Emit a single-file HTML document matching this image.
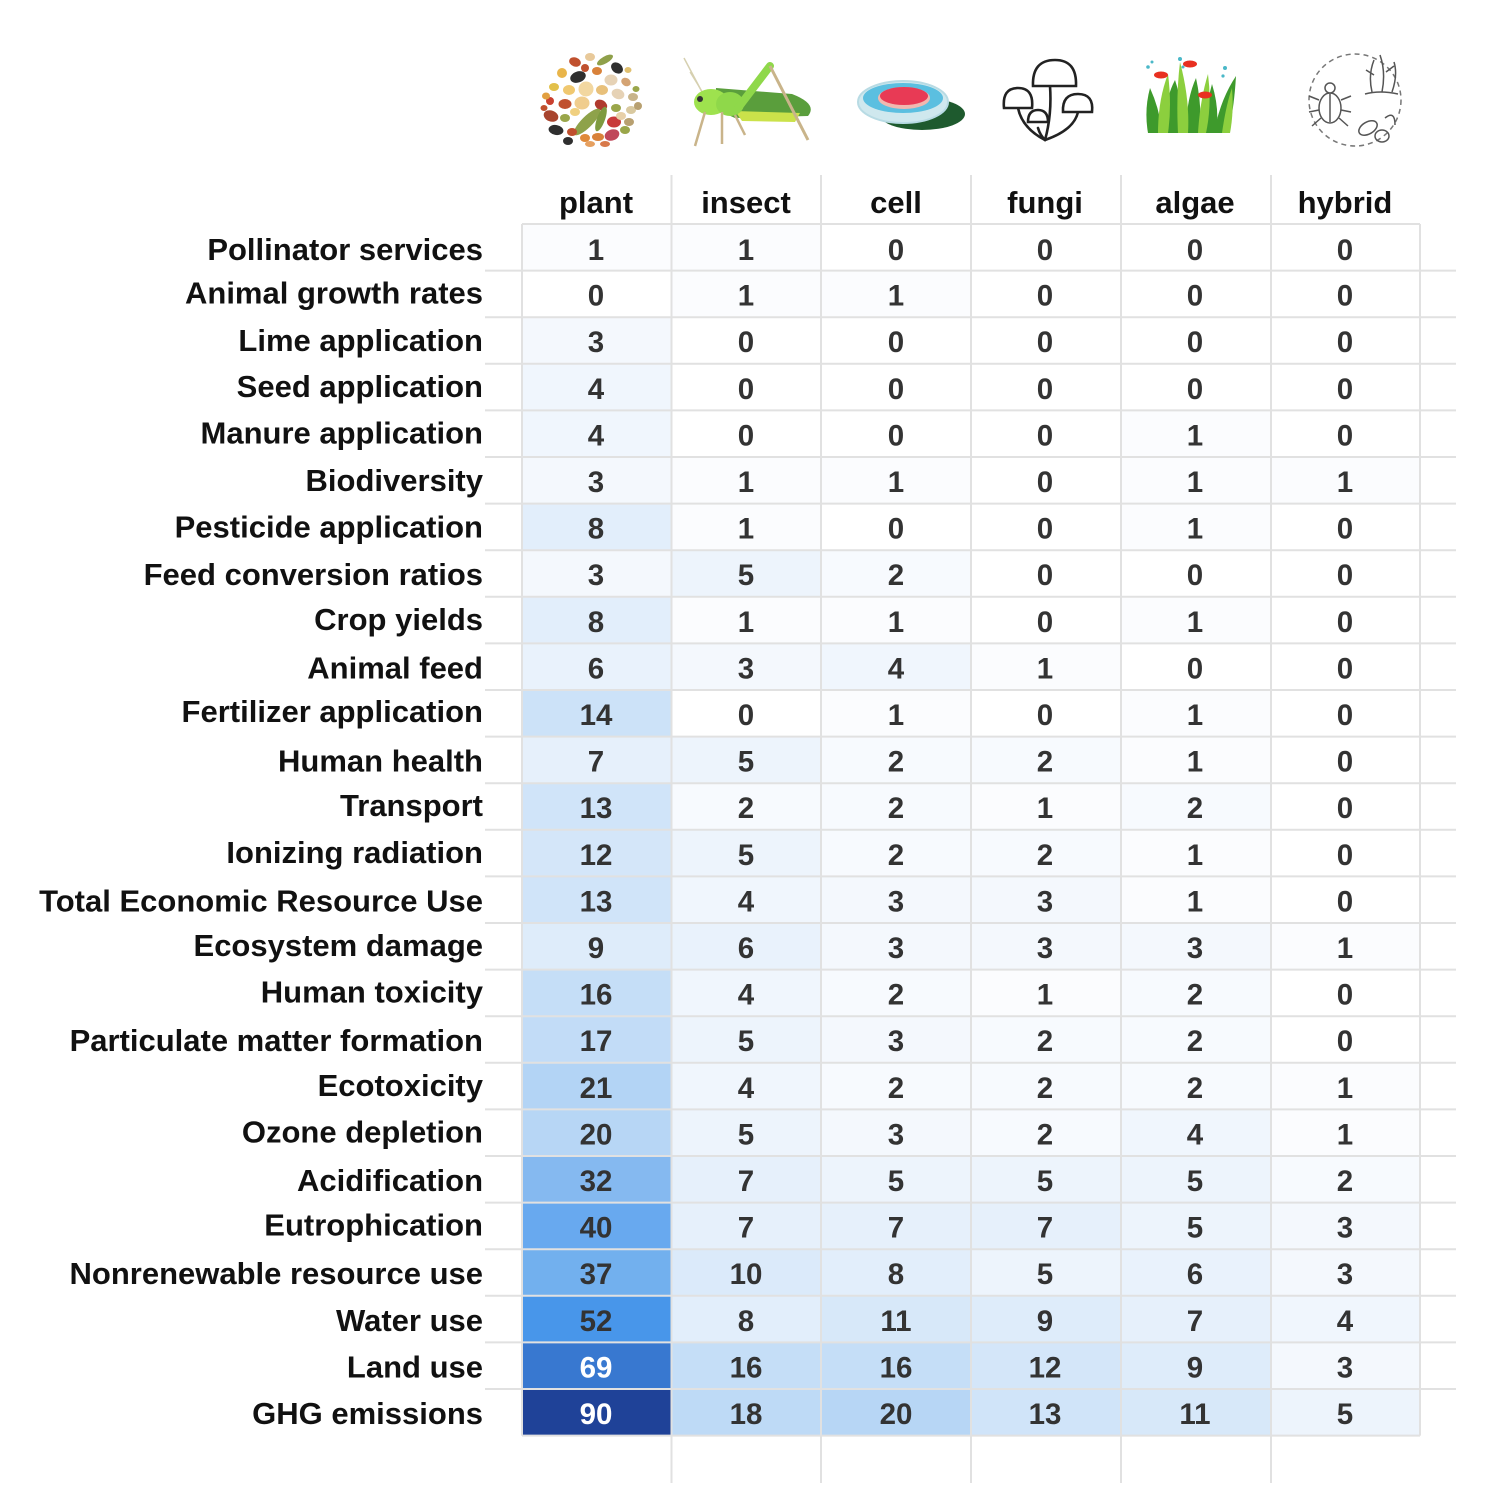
<!DOCTYPE html>
<html>
<head>
<meta charset="utf-8">
<style>
  html, body { margin:0; padding:0; background:#ffffff; }
  body { width:1492px; height:1502px; overflow:hidden; }
  svg { display:block; }
  .h { font-family:"Liberation Sans", Arial, Helvetica, sans-serif; font-weight:bold; font-size:31px; fill:#111; text-anchor:middle; }
  .l { font-family:"Liberation Sans", Arial, Helvetica, sans-serif; font-weight:bold; font-size:31px; fill:#111; text-anchor:end; }
  .n { font-family:"Liberation Sans", Arial, Helvetica, sans-serif; font-weight:bold; font-size:29.5px; fill:#333; text-anchor:middle; }
  .w { fill:#ffffff; }
</style>
</head>
<body>
<svg width="1492" height="1502" viewBox="0 0 1492 1502" xmlns="http://www.w3.org/2000/svg">

<!-- ============ ICONS ============ -->
<!-- plant: beans circle -->
<g>
  <ellipse cx="575" cy="62" rx="6" ry="4.5" fill="#c0502e" transform="rotate(20 575 62)"/>
  <ellipse cx="590" cy="57" rx="5" ry="4" fill="#e8c99a"/>
  <ellipse cx="605" cy="60" rx="9" ry="3.5" fill="#8fa04a" transform="rotate(-30 605 60)"/>
  <ellipse cx="617" cy="68" rx="6.5" ry="5" fill="#2f2f2f" transform="rotate(40 617 68)"/>
  <ellipse cx="562" cy="73" rx="5" ry="5" fill="#e9b54a"/>
  <ellipse cx="578" cy="77" rx="8" ry="5.5" fill="#2f2f2f" transform="rotate(-20 578 77)"/>
  <ellipse cx="597" cy="71" rx="5" ry="4" fill="#d9823a"/>
  <ellipse cx="611" cy="80" rx="6.5" ry="5.5" fill="#e6d2b5"/>
  <ellipse cx="626" cy="82" rx="5" ry="4" fill="#d4a373" transform="rotate(30 626 82)"/>
  <ellipse cx="554" cy="87" rx="5" ry="4" fill="#e2c04a"/>
  <ellipse cx="569" cy="90" rx="6" ry="5" fill="#f0c870"/>
  <ellipse cx="586" cy="89" rx="7.5" ry="7.5" fill="#f2d7a0"/>
  <ellipse cx="602" cy="90" rx="6" ry="5" fill="#e8c07a"/>
  <ellipse cx="618" cy="94" rx="6.5" ry="5" fill="#e6d2b5" transform="rotate(20 618 94)"/>
  <ellipse cx="633" cy="97" rx="5" ry="4" fill="#c8b48a"/>
  <ellipse cx="550" cy="101" rx="4" ry="4" fill="#c94030"/>
  <ellipse cx="565" cy="104" rx="6.5" ry="5" fill="#c0502e"/>
  <ellipse cx="582" cy="103" rx="7.5" ry="6.5" fill="#f0cd8e"/>
  <ellipse cx="601" cy="105" rx="6.5" ry="5" fill="#b03a2e" transform="rotate(30 601 105)"/>
  <ellipse cx="616" cy="108" rx="5" ry="4" fill="#9aa64a"/>
  <ellipse cx="631" cy="110" rx="5" ry="4" fill="#d9c9a0"/>
  <ellipse cx="551" cy="116" rx="7.5" ry="5.5" fill="#a8442e" transform="rotate(20 551 116)"/>
  <ellipse cx="565" cy="118" rx="5" ry="4" fill="#9aa64a"/>
  <ellipse cx="587" cy="122" rx="18" ry="5.5" fill="#8ea24a" transform="rotate(-45 587 122)"/>
  <ellipse cx="601" cy="119" rx="13" ry="4" fill="#7e9a40" transform="rotate(-70 601 119)"/>
  <ellipse cx="614" cy="122" rx="7" ry="5.5" fill="#c83a3a"/>
  <ellipse cx="629" cy="122" rx="5" ry="4" fill="#b8a070"/>
  <ellipse cx="556" cy="130" rx="7.5" ry="5" fill="#2f2f2f" transform="rotate(10 556 130)"/>
  <ellipse cx="572" cy="132" rx="5" ry="4" fill="#c0502e"/>
  <ellipse cx="585" cy="138" rx="5" ry="4" fill="#e08a3a"/>
  <ellipse cx="598" cy="137" rx="6" ry="4" fill="#d9823a"/>
  <ellipse cx="612" cy="135" rx="7.5" ry="5.5" fill="#c0485a" transform="rotate(-20 612 135)"/>
  <ellipse cx="625" cy="130" rx="5" ry="4" fill="#9aa64a"/>
  <ellipse cx="568" cy="141" rx="5" ry="4" fill="#2f2f2f"/>
  <ellipse cx="590" cy="144" rx="5" ry="3" fill="#e6a060"/>
  <ellipse cx="605" cy="144" rx="5" ry="3" fill="#d8794a"/>
  <ellipse cx="621" cy="116" rx="5" ry="4" fill="#e8d0a8"/>
  <ellipse cx="575" cy="112" rx="5" ry="4" fill="#f0d080"/>
  <ellipse cx="585" cy="68" rx="4" ry="4" fill="#c0502e"/>
  <ellipse cx="638" cy="106" rx="4" ry="4" fill="#b8a070"/>
  <ellipse cx="546" cy="96" rx="4" ry="3.5" fill="#e2a040"/>
  <ellipse cx="560" cy="60" rx="0" ry="0" fill="none"/>
  <ellipse cx="636" cy="89" rx="3.5" ry="3" fill="#9aa64a"/>
  <ellipse cx="544" cy="108" rx="3.5" ry="3" fill="#c0502e"/>
  <ellipse cx="628" cy="70" rx="3.5" ry="3" fill="#e0c070"/>
</g>

<!-- insect: grasshopper -->
<g>
  <line x1="702" y1="92" x2="684" y2="58" stroke="#d6d0b0" stroke-width="1.5"/>
  <line x1="703" y1="93" x2="690" y2="72" stroke="#d6d0b0" stroke-width="1.2"/>
  <path d="M716 88 L792 94 Q818 104 808 116 L735 118 Q714 110 716 88 Z" fill="#5a9e3c"/>
  <path d="M735 111 L800 113 L795 122 L742 121 Z" fill="#cbe24a"/>
  <ellipse cx="711" cy="102" rx="17" ry="13" fill="#9ee24e"/>
  <ellipse cx="730" cy="104" rx="14" ry="12" fill="#8fd84a"/>
  <circle cx="700" cy="99" r="3" fill="#333"/>
  <line x1="738" y1="108" x2="770" y2="66" stroke="#8fd84a" stroke-width="8" stroke-linecap="round"/>
  <line x1="770" y1="66" x2="808" y2="140" stroke="#c9b48a" stroke-width="3"/>
  <line x1="705" y1="112" x2="695" y2="146" stroke="#c9b48a" stroke-width="2.5"/>
  <line x1="722" y1="112" x2="722" y2="144" stroke="#c9b48a" stroke-width="2.5"/>
  <line x1="735" y1="115" x2="745" y2="135" stroke="#c9b48a" stroke-width="2.5"/>
</g>

<!-- cell: petri dish -->
<g>
  <ellipse cx="922" cy="114" rx="43" ry="16" fill="#1e5a2e"/>
  <ellipse cx="903" cy="102" rx="45" ry="21" fill="#cfe8ee" stroke="#b8dbe4" stroke-width="2"/>
  <ellipse cx="903" cy="98" rx="40" ry="15" fill="#5bbfe0"/>
  <ellipse cx="904" cy="98" rx="26" ry="11" fill="#f0b8b0"/>
  <ellipse cx="904" cy="96" rx="24" ry="9" fill="#e83a55"/>
</g>

<!-- fungi -->
<g fill="#ffffff" stroke="#222" stroke-width="2.6" stroke-linecap="round">
  <path d="M1050 86 Q1052 115 1045 140"/>
  <path d="M1018 108 Q1022 128 1045 140"/>
  <path d="M1078 112 Q1074 130 1045 140"/>
  <path d="M1038 128 Q1040 135 1045 140"/>
  <path d="M1033 86 Q1032 60 1055 60 Q1077 60 1076 86 Z"/>
  <path d="M1004 108 Q1002 88 1018 88 Q1034 88 1032 108 Z"/>
  <path d="M1063 112 Q1062 94 1078 94 Q1094 94 1092 112 Z"/>
  <path d="M1028 122 Q1028 110 1038 110 Q1048 110 1048 122 Z"/>
</g>

<!-- algae -->
<g>
  <path d="M1148 133 Q1144 110 1150 88 Q1160 110 1162 133 Z" fill="#3e9a2c"/>
  <path d="M1168 133 Q1162 105 1175 80 Q1184 108 1184 133 Z" fill="#3e9a2c"/>
  <path d="M1186 133 Q1186 100 1196 78 Q1202 105 1200 133 Z" fill="#3e9a2c"/>
  <path d="M1204 133 Q1206 105 1212 84 Q1220 110 1216 133 Z" fill="#3e9a2c"/>
  <path d="M1214 133 Q1220 100 1236 76 Q1234 110 1228 133 Z" fill="#3e9a2c"/>
  <path d="M1158 133 Q1158 100 1168 74 Q1172 105 1168 133 Z" fill="#8ccf3e"/>
  <path d="M1178 133 Q1176 95 1180 62 Q1190 100 1188 133 Z" fill="#8ccf3e"/>
  <path d="M1198 133 Q1200 100 1208 74 Q1212 105 1206 133 Z" fill="#8ccf3e"/>
  <path d="M1222 133 Q1226 105 1232 88 Q1234 112 1230 133 Z" fill="#8ccf3e"/>
  <ellipse cx="1161" cy="75" rx="7" ry="3.5" fill="#e83020"/>
  <ellipse cx="1190" cy="64" rx="7" ry="3.5" fill="#e83020"/>
  <ellipse cx="1205" cy="95" rx="7" ry="3.5" fill="#e83020"/>
  <circle cx="1148" cy="67" r="1.8" fill="#4ab8c8"/>
  <circle cx="1152" cy="62" r="1.5" fill="#4ab8c8"/>
  <circle cx="1180" cy="59" r="2" fill="#4ab8c8"/>
  <circle cx="1183" cy="67" r="1.5" fill="#4ab8c8"/>
  <circle cx="1225" cy="68" r="2" fill="#4ab8c8"/>
  <circle cx="1223" cy="76" r="1.6" fill="#4ab8c8"/>
</g>

<!-- hybrid -->
<g fill="none" stroke="#555" stroke-width="1.5">
  <circle cx="1355" cy="100" r="46" stroke-dasharray="5 4" stroke="#777"/>
  <ellipse cx="1330" cy="108" rx="11" ry="15" fill="#fff"/>
  <circle cx="1330" cy="88" r="5" fill="#fff"/>
  <line x1="1330" y1="94" x2="1330" y2="122"/>
  <path d="M1319 100 L1309 96 M1319 110 L1309 112 M1321 118 L1312 126 M1341 100 L1351 96 M1341 110 L1351 112 M1339 118 L1348 126"/>
  <path d="M1372 92 Q1368 75 1374 60 M1382 92 Q1386 72 1380 55 M1392 92 Q1398 75 1394 62 M1374 75 L1366 70 M1386 72 L1394 66"/>
  <path d="M1365 94 Q1380 90 1398 94"/>
  <ellipse cx="1368" cy="128" rx="10" ry="6" transform="rotate(-30 1368 128)"/>
  <ellipse cx="1382" cy="136" rx="7" ry="6"/>
  <path d="M1385 118 Q1395 110 1395 125"/>
</g>

<!-- ============ CELL FILLS ============ -->
<g transform="translate(0,224)">
  <rect x="522" y="0" width="149.5" height="46.6" fill="#fbfcfe"/>
  <rect x="671.5" y="0" width="149.5" height="46.6" fill="#fbfcfe"/>
</g>
<g transform="translate(0,270.6)">
  <rect x="671.5" y="0" width="149.5" height="46.6" fill="#fbfcfe"/>
  <rect x="821" y="0" width="150" height="46.6" fill="#fbfcfe"/>
</g>
<g transform="translate(0,317.2)">
  <rect x="522" y="0" width="149.5" height="46.6" fill="#f4f8fd"/>
</g>
<g transform="translate(0,363.8)">
  <rect x="522" y="0" width="149.5" height="46.6" fill="#f0f6fd"/>
</g>
<g transform="translate(0,410.4)">
  <rect x="522" y="0" width="149.5" height="46.6" fill="#f0f6fd"/>
  <rect x="1121" y="0" width="150" height="46.6" fill="#fbfcfe"/>
</g>
<g transform="translate(0,457)">
  <rect x="522" y="0" width="149.5" height="46.6" fill="#f4f8fd"/>
  <rect x="671.5" y="0" width="149.5" height="46.6" fill="#fbfcfe"/>
  <rect x="821" y="0" width="150" height="46.6" fill="#fbfcfe"/>
  <rect x="1121" y="0" width="150" height="46.6" fill="#fbfcfe"/>
  <rect x="1271" y="0" width="149" height="46.6" fill="#fbfcfe"/>
</g>
<g transform="translate(0,503.6)">
  <rect x="522" y="0" width="149.5" height="46.6" fill="#e2eefb"/>
  <rect x="671.5" y="0" width="149.5" height="46.6" fill="#fbfcfe"/>
  <rect x="1121" y="0" width="150" height="46.6" fill="#fbfcfe"/>
</g>
<g transform="translate(0,550.2)">
  <rect x="522" y="0" width="149.5" height="46.6" fill="#f4f8fd"/>
  <rect x="671.5" y="0" width="149.5" height="46.6" fill="#edf4fc"/>
  <rect x="821" y="0" width="150" height="46.6" fill="#f7fafe"/>
</g>
<g transform="translate(0,596.8)">
  <rect x="522" y="0" width="149.5" height="46.6" fill="#e2eefb"/>
  <rect x="671.5" y="0" width="149.5" height="46.6" fill="#fbfcfe"/>
  <rect x="821" y="0" width="150" height="46.6" fill="#fbfcfe"/>
  <rect x="1121" y="0" width="150" height="46.6" fill="#fbfcfe"/>
</g>
<g transform="translate(0,643.4)">
  <rect x="522" y="0" width="149.5" height="46.6" fill="#e9f2fc"/>
  <rect x="671.5" y="0" width="149.5" height="46.6" fill="#f4f8fd"/>
  <rect x="821" y="0" width="150" height="46.6" fill="#f0f6fd"/>
  <rect x="971" y="0" width="150" height="46.6" fill="#fbfcfe"/>
</g>
<g transform="translate(0,690)">
  <rect x="522" y="0" width="149.5" height="46.6" fill="#cce2f8"/>
  <rect x="821" y="0" width="150" height="46.6" fill="#fbfcfe"/>
  <rect x="1121" y="0" width="150" height="46.6" fill="#fbfcfe"/>
</g>
<g transform="translate(0,736.6)">
  <rect x="522" y="0" width="149.5" height="46.6" fill="#e6f0fb"/>
  <rect x="671.5" y="0" width="149.5" height="46.6" fill="#edf4fc"/>
  <rect x="821" y="0" width="150" height="46.6" fill="#f7fafe"/>
  <rect x="971" y="0" width="150" height="46.6" fill="#f7fafe"/>
  <rect x="1121" y="0" width="150" height="46.6" fill="#fbfcfe"/>
</g>
<g transform="translate(0,783.2)">
  <rect x="522" y="0" width="149.5" height="46.6" fill="#d0e4f9"/>
  <rect x="671.5" y="0" width="149.5" height="46.6" fill="#f7fafe"/>
  <rect x="821" y="0" width="150" height="46.6" fill="#f7fafe"/>
  <rect x="971" y="0" width="150" height="46.6" fill="#fbfcfe"/>
  <rect x="1121" y="0" width="150" height="46.6" fill="#f7fafe"/>
</g>
<g transform="translate(0,829.8)">
  <rect x="522" y="0" width="149.5" height="46.6" fill="#d4e6f9"/>
  <rect x="671.5" y="0" width="149.5" height="46.6" fill="#edf4fc"/>
  <rect x="821" y="0" width="150" height="46.6" fill="#f7fafe"/>
  <rect x="971" y="0" width="150" height="46.6" fill="#f7fafe"/>
  <rect x="1121" y="0" width="150" height="46.6" fill="#fbfcfe"/>
</g>
<g transform="translate(0,876.4)">
  <rect x="522" y="0" width="149.5" height="46.6" fill="#d0e4f9"/>
  <rect x="671.5" y="0" width="149.5" height="46.6" fill="#f0f6fd"/>
  <rect x="821" y="0" width="150" height="46.6" fill="#f4f8fd"/>
  <rect x="971" y="0" width="150" height="46.6" fill="#f4f8fd"/>
  <rect x="1121" y="0" width="150" height="46.6" fill="#fbfcfe"/>
</g>
<g transform="translate(0,923)">
  <rect x="522" y="0" width="149.5" height="46.6" fill="#deecfa"/>
  <rect x="671.5" y="0" width="149.5" height="46.6" fill="#e9f2fc"/>
  <rect x="821" y="0" width="150" height="46.6" fill="#f4f8fd"/>
  <rect x="971" y="0" width="150" height="46.6" fill="#f4f8fd"/>
  <rect x="1121" y="0" width="150" height="46.6" fill="#f4f8fd"/>
  <rect x="1271" y="0" width="149" height="46.6" fill="#fbfcfe"/>
</g>
<g transform="translate(0,969.6)">
  <rect x="522" y="0" width="149.5" height="46.6" fill="#c5def7"/>
  <rect x="671.5" y="0" width="149.5" height="46.6" fill="#f0f6fd"/>
  <rect x="821" y="0" width="150" height="46.6" fill="#f7fafe"/>
  <rect x="971" y="0" width="150" height="46.6" fill="#fbfcfe"/>
  <rect x="1121" y="0" width="150" height="46.6" fill="#f7fafe"/>
</g>
<g transform="translate(0,1016.2)">
  <rect x="522" y="0" width="149.5" height="46.6" fill="#c2dcf7"/>
  <rect x="671.5" y="0" width="149.5" height="46.6" fill="#edf4fc"/>
  <rect x="821" y="0" width="150" height="46.6" fill="#f4f8fd"/>
  <rect x="971" y="0" width="150" height="46.6" fill="#f7fafe"/>
  <rect x="1121" y="0" width="150" height="46.6" fill="#f7fafe"/>
</g>
<g transform="translate(0,1062.8)">
  <rect x="522" y="0" width="149.5" height="46.6" fill="#b3d4f5"/>
  <rect x="671.5" y="0" width="149.5" height="46.6" fill="#f0f6fd"/>
  <rect x="821" y="0" width="150" height="46.6" fill="#f7fafe"/>
  <rect x="971" y="0" width="150" height="46.6" fill="#f7fafe"/>
  <rect x="1121" y="0" width="150" height="46.6" fill="#f7fafe"/>
  <rect x="1271" y="0" width="149" height="46.6" fill="#fbfcfe"/>
</g>
<g transform="translate(0,1109.4)">
  <rect x="522" y="0" width="149.5" height="46.6" fill="#b7d6f5"/>
  <rect x="671.5" y="0" width="149.5" height="46.6" fill="#edf4fc"/>
  <rect x="821" y="0" width="150" height="46.6" fill="#f4f8fd"/>
  <rect x="971" y="0" width="150" height="46.6" fill="#f7fafe"/>
  <rect x="1121" y="0" width="150" height="46.6" fill="#f0f6fd"/>
  <rect x="1271" y="0" width="149" height="46.6" fill="#fbfcfe"/>
</g>
<g transform="translate(0,1156)">
  <rect x="522" y="0" width="149.5" height="46.6" fill="#85b9f0"/>
  <rect x="671.5" y="0" width="149.5" height="46.6" fill="#e6f0fb"/>
  <rect x="821" y="0" width="150" height="46.6" fill="#edf4fc"/>
  <rect x="971" y="0" width="150" height="46.6" fill="#edf4fc"/>
  <rect x="1121" y="0" width="150" height="46.6" fill="#edf4fc"/>
  <rect x="1271" y="0" width="149" height="46.6" fill="#f7fafe"/>
</g>
<g transform="translate(0,1202.6)">
  <rect x="522" y="0" width="149.5" height="46.6" fill="#68a9ef"/>
  <rect x="671.5" y="0" width="149.5" height="46.6" fill="#e6f0fb"/>
  <rect x="821" y="0" width="150" height="46.6" fill="#e6f0fb"/>
  <rect x="971" y="0" width="150" height="46.6" fill="#e6f0fb"/>
  <rect x="1121" y="0" width="150" height="46.6" fill="#edf4fc"/>
  <rect x="1271" y="0" width="149" height="46.6" fill="#f4f8fd"/>
</g>
<g transform="translate(0,1249.2)">
  <rect x="522" y="0" width="149.5" height="46.6" fill="#72b0ee"/>
  <rect x="671.5" y="0" width="149.5" height="46.6" fill="#dbeafa"/>
  <rect x="821" y="0" width="150" height="46.6" fill="#e2eefb"/>
  <rect x="971" y="0" width="150" height="46.6" fill="#edf4fc"/>
  <rect x="1121" y="0" width="150" height="46.6" fill="#e9f2fc"/>
  <rect x="1271" y="0" width="149" height="46.6" fill="#f4f8fd"/>
</g>
<g transform="translate(0,1295.8)">
  <rect x="522" y="0" width="149.5" height="46.6" fill="#4896ea"/>
  <rect x="671.5" y="0" width="149.5" height="46.6" fill="#e2eefb"/>
  <rect x="821" y="0" width="150" height="46.6" fill="#d7e8f9"/>
  <rect x="971" y="0" width="150" height="46.6" fill="#deecfa"/>
  <rect x="1121" y="0" width="150" height="46.6" fill="#e6f0fb"/>
  <rect x="1271" y="0" width="149" height="46.6" fill="#f0f6fd"/>
</g>
<g transform="translate(0,1342.4)">
  <rect x="522" y="0" width="149.5" height="46.6" fill="#3878d0"/>
  <rect x="671.5" y="0" width="149.5" height="46.6" fill="#c5def7"/>
  <rect x="821" y="0" width="150" height="46.6" fill="#c5def7"/>
  <rect x="971" y="0" width="150" height="46.6" fill="#d4e6f9"/>
  <rect x="1121" y="0" width="150" height="46.6" fill="#deecfa"/>
  <rect x="1271" y="0" width="149" height="46.6" fill="#f4f8fd"/>
</g>
<g transform="translate(0,1389)">
  <rect x="522" y="0" width="149.5" height="46.6" fill="#1f4298"/>
  <rect x="671.5" y="0" width="149.5" height="46.6" fill="#bedaf6"/>
  <rect x="821" y="0" width="150" height="46.6" fill="#b7d6f5"/>
  <rect x="971" y="0" width="150" height="46.6" fill="#d0e4f9"/>
  <rect x="1121" y="0" width="150" height="46.6" fill="#d7e8f9"/>
  <rect x="1271" y="0" width="149" height="46.6" fill="#edf4fc"/>
</g>

<!-- ============ GRID LINES ============ -->
<g stroke="#e1e1e1" stroke-width="2">
  <line x1="671.5" y1="175" x2="671.5" y2="1483"/>
  <line x1="821" y1="175" x2="821" y2="1483"/>
  <line x1="971" y1="175" x2="971" y2="1483"/>
  <line x1="1121" y1="175" x2="1121" y2="1483"/>
  <line x1="1271" y1="175" x2="1271" y2="1483"/>
  <line x1="522" y1="224" x2="522" y2="1435.6"/>
  <line x1="1420" y1="224" x2="1420" y2="1435.6"/>
  <line x1="522" y1="224" x2="1420" y2="224"/>
  <line x1="485" y1="270.6" x2="1456" y2="270.6"/>
  <line x1="485" y1="317.2" x2="1456" y2="317.2"/>
  <line x1="485" y1="363.8" x2="1456" y2="363.8"/>
  <line x1="485" y1="410.4" x2="1456" y2="410.4"/>
  <line x1="485" y1="457" x2="1456" y2="457"/>
  <line x1="485" y1="503.6" x2="1456" y2="503.6"/>
  <line x1="485" y1="550.2" x2="1456" y2="550.2"/>
  <line x1="485" y1="596.8" x2="1456" y2="596.8"/>
  <line x1="485" y1="643.4" x2="1456" y2="643.4"/>
  <line x1="485" y1="690" x2="1456" y2="690"/>
  <line x1="485" y1="736.6" x2="1456" y2="736.6"/>
  <line x1="485" y1="783.2" x2="1456" y2="783.2"/>
  <line x1="485" y1="829.8" x2="1456" y2="829.8"/>
  <line x1="485" y1="876.4" x2="1456" y2="876.4"/>
  <line x1="485" y1="923" x2="1456" y2="923"/>
  <line x1="485" y1="969.6" x2="1456" y2="969.6"/>
  <line x1="485" y1="1016.2" x2="1456" y2="1016.2"/>
  <line x1="485" y1="1062.8" x2="1456" y2="1062.8"/>
  <line x1="485" y1="1109.4" x2="1456" y2="1109.4"/>
  <line x1="485" y1="1156" x2="1456" y2="1156"/>
  <line x1="485" y1="1202.6" x2="1456" y2="1202.6"/>
  <line x1="485" y1="1249.2" x2="1456" y2="1249.2"/>
  <line x1="485" y1="1295.8" x2="1456" y2="1295.8"/>
  <line x1="485" y1="1342.4" x2="1456" y2="1342.4"/>
  <line x1="485" y1="1389" x2="1456" y2="1389"/>
  <line x1="522" y1="1435.6" x2="1420" y2="1435.6"/>
</g>

<!-- ============ HEADERS ============ -->
<text class="h" x="596" y="213">plant</text>
<text class="h" x="746" y="213">insect</text>
<text class="h" x="896" y="213">cell</text>
<text class="h" x="1045" y="213">fungi</text>
<text class="h" x="1195" y="213">algae</text>
<text class="h" x="1345" y="213">hybrid</text>

<!-- ============ ROWS: labels + numbers ============ -->
<g transform="translate(0,224)"><text class="l" x="483" y="36">Pollinator services</text>
  <text class="n" x="596" y="36">1</text><text class="n" x="746" y="36">1</text><text class="n" x="896" y="36">0</text><text class="n" x="1045" y="36">0</text><text class="n" x="1195" y="36">0</text><text class="n" x="1345" y="36">0</text></g>
<g transform="translate(0,270.6)"><text class="l" x="483" y="33">Animal growth rates</text>
  <text class="n" x="596" y="35">0</text><text class="n" x="746" y="35">1</text><text class="n" x="896" y="35">1</text><text class="n" x="1045" y="35">0</text><text class="n" x="1195" y="35">0</text><text class="n" x="1345" y="35">0</text></g>
<g transform="translate(0,317.2)"><text class="l" x="483" y="34">Lime application</text>
  <text class="n" x="596" y="35">3</text><text class="n" x="746" y="35">0</text><text class="n" x="896" y="35">0</text><text class="n" x="1045" y="35">0</text><text class="n" x="1195" y="35">0</text><text class="n" x="1345" y="35">0</text></g>
<g transform="translate(0,363.8)"><text class="l" x="483" y="33">Seed application</text>
  <text class="n" x="596" y="35">4</text><text class="n" x="746" y="35">0</text><text class="n" x="896" y="35">0</text><text class="n" x="1045" y="35">0</text><text class="n" x="1195" y="35">0</text><text class="n" x="1345" y="35">0</text></g>
<g transform="translate(0,410.4)"><text class="l" x="483" y="33">Manure application</text>
  <text class="n" x="596" y="35">4</text><text class="n" x="746" y="35">0</text><text class="n" x="896" y="35">0</text><text class="n" x="1045" y="35">0</text><text class="n" x="1195" y="35">1</text><text class="n" x="1345" y="35">0</text></g>
<g transform="translate(0,457)"><text class="l" x="483" y="34">Biodiversity</text>
  <text class="n" x="596" y="35">3</text><text class="n" x="746" y="35">1</text><text class="n" x="896" y="35">1</text><text class="n" x="1045" y="35">0</text><text class="n" x="1195" y="35">1</text><text class="n" x="1345" y="35">1</text></g>
<g transform="translate(0,503.6)"><text class="l" x="483" y="34">Pesticide application</text>
  <text class="n" x="596" y="35">8</text><text class="n" x="746" y="35">1</text><text class="n" x="896" y="35">0</text><text class="n" x="1045" y="35">0</text><text class="n" x="1195" y="35">1</text><text class="n" x="1345" y="35">0</text></g>
<g transform="translate(0,550.2)"><text class="l" x="483" y="35">Feed conversion ratios</text>
  <text class="n" x="596" y="35">3</text><text class="n" x="746" y="35">5</text><text class="n" x="896" y="35">2</text><text class="n" x="1045" y="35">0</text><text class="n" x="1195" y="35">0</text><text class="n" x="1345" y="35">0</text></g>
<g transform="translate(0,596.8)"><text class="l" x="483" y="33">Crop yields</text>
  <text class="n" x="596" y="35">8</text><text class="n" x="746" y="35">1</text><text class="n" x="896" y="35">1</text><text class="n" x="1045" y="35">0</text><text class="n" x="1195" y="35">1</text><text class="n" x="1345" y="35">0</text></g>
<g transform="translate(0,643.4)"><text class="l" x="483" y="35">Animal feed</text>
  <text class="n" x="596" y="35">6</text><text class="n" x="746" y="35">3</text><text class="n" x="896" y="35">4</text><text class="n" x="1045" y="35">1</text><text class="n" x="1195" y="35">0</text><text class="n" x="1345" y="35">0</text></g>
<g transform="translate(0,690)"><text class="l" x="483" y="32">Fertilizer application</text>
  <text class="n" x="596" y="35">14</text><text class="n" x="746" y="35">0</text><text class="n" x="896" y="35">1</text><text class="n" x="1045" y="35">0</text><text class="n" x="1195" y="35">1</text><text class="n" x="1345" y="35">0</text></g>
<g transform="translate(0,736.6)"><text class="l" x="483" y="35">Human health</text>
  <text class="n" x="596" y="35">7</text><text class="n" x="746" y="35">5</text><text class="n" x="896" y="35">2</text><text class="n" x="1045" y="35">2</text><text class="n" x="1195" y="35">1</text><text class="n" x="1345" y="35">0</text></g>
<g transform="translate(0,783.2)"><text class="l" x="483" y="33">Transport</text>
  <text class="n" x="596" y="35">13</text><text class="n" x="746" y="35">2</text><text class="n" x="896" y="35">2</text><text class="n" x="1045" y="35">1</text><text class="n" x="1195" y="35">2</text><text class="n" x="1345" y="35">0</text></g>
<g transform="translate(0,829.8)"><text class="l" x="483" y="33">Ionizing radiation</text>
  <text class="n" x="596" y="35">12</text><text class="n" x="746" y="35">5</text><text class="n" x="896" y="35">2</text><text class="n" x="1045" y="35">2</text><text class="n" x="1195" y="35">1</text><text class="n" x="1345" y="35">0</text></g>
<g transform="translate(0,876.4)"><text class="l" x="483" y="35">Total Economic Resource Use</text>
  <text class="n" x="596" y="35">13</text><text class="n" x="746" y="35">4</text><text class="n" x="896" y="35">3</text><text class="n" x="1045" y="35">3</text><text class="n" x="1195" y="35">1</text><text class="n" x="1345" y="35">0</text></g>
<g transform="translate(0,923)"><text class="l" x="483" y="33">Ecosystem damage</text>
  <text class="n" x="596" y="35">9</text><text class="n" x="746" y="35">6</text><text class="n" x="896" y="35">3</text><text class="n" x="1045" y="35">3</text><text class="n" x="1195" y="35">3</text><text class="n" x="1345" y="35">1</text></g>
<g transform="translate(0,969.6)"><text class="l" x="483" y="33">Human toxicity</text>
  <text class="n" x="596" y="35">16</text><text class="n" x="746" y="35">4</text><text class="n" x="896" y="35">2</text><text class="n" x="1045" y="35">1</text><text class="n" x="1195" y="35">2</text><text class="n" x="1345" y="35">0</text></g>
<g transform="translate(0,1016.2)"><text class="l" x="483" y="35">Particulate matter formation</text>
  <text class="n" x="596" y="35">17</text><text class="n" x="746" y="35">5</text><text class="n" x="896" y="35">3</text><text class="n" x="1045" y="35">2</text><text class="n" x="1195" y="35">2</text><text class="n" x="1345" y="35">0</text></g>
<g transform="translate(0,1062.8)"><text class="l" x="483" y="33">Ecotoxicity</text>
  <text class="n" x="596" y="35">21</text><text class="n" x="746" y="35">4</text><text class="n" x="896" y="35">2</text><text class="n" x="1045" y="35">2</text><text class="n" x="1195" y="35">2</text><text class="n" x="1345" y="35">1</text></g>
<g transform="translate(0,1109.4)"><text class="l" x="483" y="33">Ozone depletion</text>
  <text class="n" x="596" y="35">20</text><text class="n" x="746" y="35">5</text><text class="n" x="896" y="35">3</text><text class="n" x="1045" y="35">2</text><text class="n" x="1195" y="35">4</text><text class="n" x="1345" y="35">1</text></g>
<g transform="translate(0,1156)"><text class="l" x="483" y="35">Acidification</text>
  <text class="n" x="596" y="35">32</text><text class="n" x="746" y="35">7</text><text class="n" x="896" y="35">5</text><text class="n" x="1045" y="35">5</text><text class="n" x="1195" y="35">5</text><text class="n" x="1345" y="35">2</text></g>
<g transform="translate(0,1202.6)"><text class="l" x="483" y="33">Eutrophication</text>
  <text class="n" x="596" y="35">40</text><text class="n" x="746" y="35">7</text><text class="n" x="896" y="35">7</text><text class="n" x="1045" y="35">7</text><text class="n" x="1195" y="35">5</text><text class="n" x="1345" y="35">3</text></g>
<g transform="translate(0,1249.2)"><text class="l" x="483" y="35">Nonrenewable resource use</text>
  <text class="n" x="596" y="35">37</text><text class="n" x="746" y="35">10</text><text class="n" x="896" y="35">8</text><text class="n" x="1045" y="35">5</text><text class="n" x="1195" y="35">6</text><text class="n" x="1345" y="35">3</text></g>
<g transform="translate(0,1295.8)"><text class="l" x="483" y="35">Water use</text>
  <text class="n" x="596" y="35">52</text><text class="n" x="746" y="35">8</text><text class="n" x="896" y="35">11</text><text class="n" x="1045" y="35">9</text><text class="n" x="1195" y="35">7</text><text class="n" x="1345" y="35">4</text></g>
<g transform="translate(0,1342.4)"><text class="l" x="483" y="35">Land use</text>
  <text class="n w" x="596" y="35">69</text><text class="n" x="746" y="35">16</text><text class="n" x="896" y="35">16</text><text class="n" x="1045" y="35">12</text><text class="n" x="1195" y="35">9</text><text class="n" x="1345" y="35">3</text></g>
<g transform="translate(0,1389)"><text class="l" x="483" y="35">GHG emissions</text>
  <text class="n w" x="596" y="35">90</text><text class="n" x="746" y="35">18</text><text class="n" x="896" y="35">20</text><text class="n" x="1045" y="35">13</text><text class="n" x="1195" y="35">11</text><text class="n" x="1345" y="35">5</text></g>

</svg>
</body>
</html>
